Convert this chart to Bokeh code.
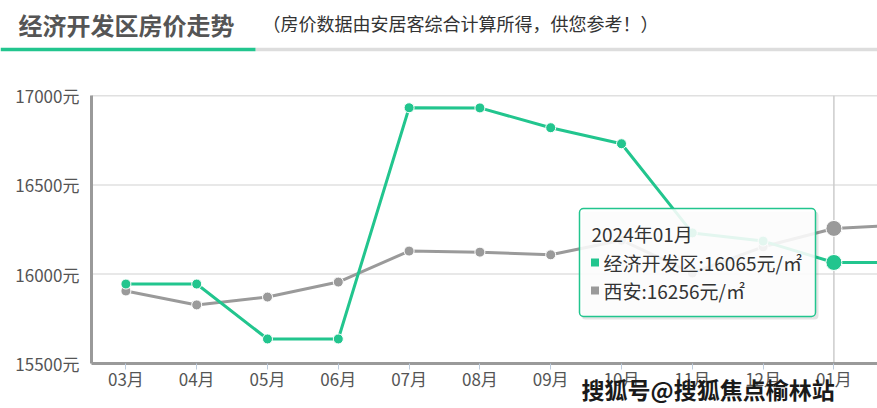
from bokeh.plotting import figure
from bokeh.models import Range1d, FixedTicker, BoxAnnotation
from bokeh.core.properties import value
from bokeh.embed import file_html
from bokeh.resources import INLINE

# ---------------- data ----------------
months = ["03月", "04月", "05月", "06月", "07月", "08月", "09月", "10月", "11月", "12月", "01月", "02月"]
kaifaqu = [15944, 15944, 15636, 15636, 16933, 16932, 16821, 16731, 16231, 16185, 16065, 16065]
xian = [15905, 15827, 15871, 15955, 16129, 16123, 16108, 16190, 16006, 16153, 16256, 16275]
y_ticks = [15500, 16000, 16500, 17000]
series_names = ["经济开发区", "西安"]
title_text = "经济开发区房价走势"
subtitle_text = "（房价数据由安居客综合计算所得，供您参考！）"
tip_title = "2024年01月"
hover_idx = 10
watermark = "搜狐号@搜狐焦点榆林站"

GREEN = "#22c58e"
GRAY = "#9a9a9a"
FONT = "Noto Sans CJK SC"
W, H = 877, 408

# ---- layout geometry (page pixels -> data space) ----
CAT0_PX, CAT_STEP_PX = 125.4, 70.8          # centre of first category, category width
YTOP_PX, YBOT_PX = 95.3, 362.7              # pixel rows of y_ticks[-1] and y_ticks[0]
Y_LO, Y_HI = y_ticks[0], y_ticks[-1]
PX_PER_UNIT = (YBOT_PX - YTOP_PX) / (Y_HI - Y_LO)


def px2x(px):
    return (px - CAT0_PX) / CAT_STEP_PX


def px2y(py):
    return Y_HI - (py - YTOP_PX) / PX_PER_UNIT


x_left = px2x(91)      # y-axis position
x_right = px2x(W)

p = figure(width=W, height=H,
           x_range=Range1d(px2x(0), px2x(W)), y_range=Range1d(px2y(H), px2y(0)),
           output_backend="svg", toolbar_location=None,
           min_border=0, outline_line_color=None)
p.xgrid.visible = False
p.ygrid.visible = False

# ---- header ----
p.text(x=[px2x(18)], y=[px2y(24)], text=[title_text], text_font=value(FONT), text_font_size="24px",
       text_font_style="bold", text_color="#555555", text_baseline="middle")
p.text(x=[px2x(262)], y=[px2y(22)], text=[subtitle_text], text_font=value(FONT), text_font_size="18px",
       text_color="#333333", text_baseline="middle")
p.segment(x0=[px2x(255)], y0=[px2y(49)], x1=[px2x(W)], y1=[px2y(49)], line_color="#dddddd", line_width=3.3)
p.segment(x0=[px2x(0)], y0=[px2y(49)], x1=[px2x(255)], y1=[px2y(49)], line_color=GREEN, line_width=3.3)

# ---- axes ----
xs = list(range(len(months)))
p.yaxis.fixed_location = x_left
p.yaxis.bounds = (Y_LO, Y_HI)
p.yaxis.ticker = FixedTicker(ticks=y_ticks)
p.yaxis.major_label_overrides = {t: f"{t}元" for t in y_ticks}
p.yaxis.axis_line_color = "#9a9a9a"
p.yaxis.axis_line_width = 3
p.yaxis.major_tick_line_color = None
p.yaxis.minor_tick_line_color = None
p.yaxis.major_label_text_font = FONT
p.yaxis.major_label_text_font_size = "17px"
p.yaxis.major_label_text_color = "#555555"
p.yaxis.major_label_standoff = 6

p.xaxis.fixed_location = Y_LO
p.xaxis.bounds = (x_left, x_right)
p.xaxis.ticker = FixedTicker(ticks=xs)
p.xaxis.major_label_overrides = {i: m for i, m in enumerate(months)}
p.xaxis.axis_line_color = "#9a9a9a"
p.xaxis.axis_line_width = 3
p.xaxis.major_tick_line_color = "#bccbdc"
p.xaxis.major_tick_in = 0
p.xaxis.major_tick_out = 6
p.xaxis.minor_tick_line_color = None
p.xaxis.major_label_text_font = FONT
p.xaxis.major_label_text_font_size = "17px"
p.xaxis.major_label_text_color = "#555555"
p.xaxis.major_label_standoff = -3

# horizontal grid lines between the y axis and the right edge
n = len(y_ticks)
p.segment(x0=[x_left] * n, y0=y_ticks, x1=[x_right] * n, y1=y_ticks, line_color="#e0e0e0", line_width=1.5)
# axis pointer at the hovered month
p.segment(x0=[hover_idx], y0=[Y_LO], x1=[hover_idx], y1=[Y_HI], line_color="#cccccc", line_width=1.5)

# ---- series ----
p.line(xs, xian, line_color=GRAY, line_width=3)
p.scatter(xs, xian, size=10, fill_color=GRAY, line_color="white", line_width=1)
p.line(xs, kaifaqu, line_color=GREEN, line_width=3)
p.scatter(xs, kaifaqu, size=10, fill_color=GREEN, line_color="white", line_width=1)
p.scatter([hover_idx], [xian[hover_idx]], size=16, fill_color=GRAY, line_color="white", line_width=1)
p.scatter([hover_idx], [kaifaqu[hover_idx]], size=16, fill_color=GREEN, line_color="white", line_width=1)

# ---- tooltip ----
tip_l, tip_r, tip_t, tip_b = px2x(579), px2x(815), px2y(208), px2y(316)
shadow = BoxAnnotation(left=px2x(581), right=px2x(818), top=px2y(211), bottom=px2y(319),
                       fill_color="black", fill_alpha=0.10, line_color=None, border_radius=4)
box = BoxAnnotation(left=tip_l, right=tip_r, top=tip_t, bottom=tip_b,
                    fill_color="white", fill_alpha=0.88, line_color=GREEN, line_alpha=1.0,
                    line_width=1.5, border_radius=4)
p.add_layout(shadow)
p.add_layout(box)

tip_font = "19px"
t1 = p.text(x=[px2x(591)], y=[px2y(233)], text=[tip_title], text_font=value(FONT), text_font_size=tip_font,
            text_color="#333333", text_baseline="middle")
t1.level = "overlay"
rows = [(series_names[0], kaifaqu[hover_idx], GREEN, px2y(262)),
        (series_names[1], xian[hover_idx], GRAY, px2y(290))]
for name, val, col, yy in rows:
    sq = p.scatter([px2x(594.5)], [yy], marker="square", size=8, fill_color=col, line_color=None)
    sq.level = "overlay"
    tr = p.text(x=[px2x(603)], y=[yy], text=[f"{name}:{val}元/㎡"], text_font=value(FONT),
                text_font_size=tip_font, text_color="#333333", text_baseline="middle")
    tr.level = "overlay"

# ---- watermark ----
wm = p.text(x=[px2x(581)], y=[px2y(388)], text=[watermark], text_font=value(FONT), text_font_size="23px",
            text_font_style="bold", text_color="#1a1a1a", text_baseline="middle")
wm.level = "overlay"

open("out.html", "w").write(file_html(p, INLINE))
